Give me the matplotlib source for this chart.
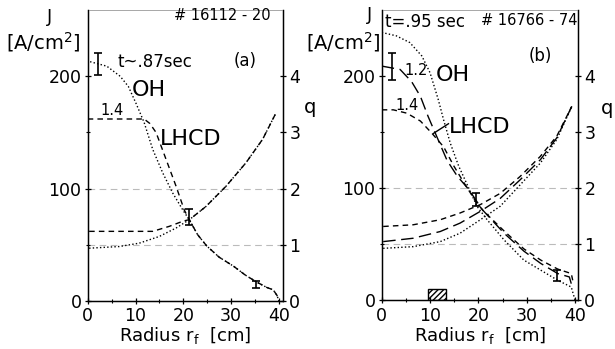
import numpy as np
import matplotlib.pyplot as plt

# ---- panel (a): shot 16112-20, t~.87 s ----
r_a_oh = [0.5, 4, 6.8, 8.5, 10.1, 11.8, 13.6, 15.7, 17.8, 19.9, 21.3, 23, 24.9, 27.5, 30.5, 33, 35.3, 37.5, 38.8, 39.6, 40]
j_a_oh = [213, 209, 200, 191, 176, 159, 135, 114, 96, 81, 72, 59, 49, 39, 31, 23, 17, 12, 10, 5, 0]
r_a_lh = [0, 11.8, 13, 14.3, 16.4, 18.5, 20.2, 21.3, 23, 24.9, 27.5, 30.5, 33, 35.3, 37.5, 38.8, 39.6, 40]
j_a_lh = [162, 162, 158, 150, 126, 102, 81, 72, 59, 49, 39, 31, 23, 17, 12, 10, 5, 0]
rq_a_oh = [0.3, 6.6, 10.8, 15, 18.5, 21.3, 24.7, 28.9, 33.1, 36.6, 39.4]
q_a_oh = [0.94, 0.97, 1.03, 1.15, 1.3, 1.45, 1.68, 2.04, 2.46, 2.88, 3.35]
rq_a_lh = [0.3, 13.6, 17.1, 19.9, 21.3, 24.7, 28.9, 33.1, 36.6, 39.4]
q_a_lh = [1.24, 1.24, 1.33, 1.42, 1.45, 1.68, 2.04, 2.46, 2.88, 3.35]
err_a_r = [2.1, 21.2, 35.3]
err_a_j = [211, 75, 15]
err_a_e = [10, 7, 3]

# ---- panel (b): shot 16766-74, t=.95 s ----
r_b_oh = [0, 3, 5.8, 8.3, 10, 11.7, 12.8, 14.2, 15.9, 17.6, 19.7, 21.8, 25.3, 29.4, 32.9, 36.4, 39.2, 40]
j_b_oh = [239, 236, 230, 218, 203, 179, 161, 140, 120, 104, 84, 72, 54, 36, 27, 18, 12, 0]
r_b_12 = [0, 3.8, 6.2, 8, 9.6, 11.4, 13.5, 15.6, 18, 20.8, 25.3, 29.4, 32.9, 36.4, 38.8, 39.2]
j_b_12 = [209, 206, 195, 182, 164, 146, 125, 111, 99, 81, 60, 44, 33, 24, 21, 15]
r_b_14 = [0, 2.4, 5.2, 8, 10.4, 12.8, 14.9, 17, 19.5, 21, 25.3, 29.4, 32.9, 36.4, 39.2, 39.5]
j_b_14 = [170, 170, 167, 160, 149, 137, 120, 105, 88, 80, 62, 46, 36, 28, 24, 18]
rq_b = [0.3, 6.5, 12.1, 16.2, 20.4, 24.5, 28.6, 32.8, 36.2, 39.3]
q_b_oh = [0.93, 0.96, 1.05, 1.2, 1.44, 1.68, 2.06, 2.45, 2.87, 3.46]
q_b_12 = [1.05, 1.11, 1.23, 1.38, 1.59, 1.82, 2.15, 2.51, 2.9, 3.46]
q_b_14 = [1.32, 1.35, 1.44, 1.56, 1.71, 1.91, 2.21, 2.57, 2.93, 3.46]
err_b_r = [2.1, 19.6, 36.2]
err_b_j = [209, 90, 22]
err_b_e = [12, 6, 5]
antenna_r = [9.6, 13.3]
antenna_j = 10

dotted = (0, (1, 1.6))
short_dash = (0, (4, 3))
long_dash = (0, (9, 4))
grid_ls = (0, (6, 4))

fig = plt.figure(figsize=(6.15, 3.49), dpi=100)
ax_a = fig.add_axes([0.1426, 0.1375, 0.3176, 0.8338])
ax_b = fig.add_axes([0.6207, 0.139, 0.3192, 0.8323])


def setup(ax, xmax):
    ax.set_xlim(0, xmax)
    ax.set_ylim(0, 259)
    ax.set_xticks([0, 10, 20, 30, 40])
    ax.set_xticks([5, 15, 25, 35], minor=True)
    ax.set_yticks([0, 100, 200])
    ax.set_yticks([50, 150], minor=True)
    ax.tick_params(direction='inout', length=5, width=0.9, labelsize=12.5, pad=2)
    ax.tick_params(which='minor', direction='inout', length=3, width=0.8)
    for s in ['left', 'bottom', 'right']:
        ax.spines[s].set_linewidth(1.0)
    ax.spines['top'].set_color('#999999')
    ax.spines['top'].set_linewidth(0.6)
    ax.axhline(50, color='#bbbbbb', lw=0.8, ls=grid_ls, zorder=0)
    ax.axhline(100, color='#bbbbbb', lw=0.8, ls=grid_ls, zorder=0)
    ax.set_xlabel("Radius r$_\\mathregular{f}$  [cm]", fontsize=13, labelpad=0)
    tq = ax.twinx()
    tq.set_ylim(0, 259 / 50)
    tq.set_yticks([0, 1, 2, 3, 4])
    tq.tick_params(direction='inout', length=5, width=0.9, labelsize=12.5, pad=2)
    tq.spines['top'].set_visible(False)
    return tq


q_a = setup(ax_a, 40.86)
q_b = setup(ax_b, 40.6)

# panel (a) curves
ax_a.plot(r_a_oh, j_a_oh, color='k', lw=1.0, ls=dotted)
ax_a.plot(r_a_lh, j_a_lh, color='k', lw=1.0, ls=short_dash)
q_a.plot(rq_a_oh, q_a_oh, color='k', lw=1.0, ls=dotted)
q_a.plot(rq_a_lh, q_a_lh, color='k', lw=1.0, ls=short_dash)
ax_a.errorbar(err_a_r, err_a_j, yerr=err_a_e, fmt='none', ecolor='k', elinewidth=1.2, capsize=3, capthick=1.2)

ax_a.text(28.2, 254, "# 16112 - 20", fontsize=10.5, ha='center', va='center')
ax_a.text(14, 213, "t~.87sec", fontsize=12, ha='center', va='center')
ax_a.text(33, 214, "(a)", fontsize=12, ha='center', va='center')
ax_a.text(12.8, 188, "OH", fontsize=16, ha='center', va='center')
ax_a.text(5.2, 170, "1.4", fontsize=10.5, ha='center', va='center')
ax_a.text(21.6, 144, "LHCD", fontsize=16, ha='center', va='center')

# panel (b) curves
ax_b.plot(r_b_oh, j_b_oh, color='k', lw=1.0, ls=dotted)
ax_b.plot(r_b_12, j_b_12, color='k', lw=1.0, ls=long_dash)
ax_b.plot(r_b_14, j_b_14, color='k', lw=1.0, ls=short_dash)
q_b.plot(rq_b, q_b_oh, color='k', lw=1.0, ls=dotted)
q_b.plot(rq_b, q_b_12, color='k', lw=1.0, ls=long_dash)
q_b.plot(rq_b, q_b_14, color='k', lw=1.0, ls=short_dash)
ax_b.errorbar(err_b_r, err_b_j, yerr=err_b_e, fmt='none', ecolor='k', elinewidth=1.2, capsize=3, capthick=1.2)
ax_b.plot([10.7, 13.8], [149, 157.6], color='k', lw=1.0)
ax_b.bar([(antenna_r[0] + antenna_r[1]) / 2], [antenna_j], width=antenna_r[1] - antenna_r[0],
         color='white', edgecolor='k', hatch='//////', lw=1.0)

ax_b.text(9.0, 248, "t=.95 sec", fontsize=12, ha='center', va='center')
ax_b.text(30.5, 250, "# 16766 - 74", fontsize=10.5, ha='center', va='center')
ax_b.text(32.7, 218, "(b)", fontsize=12, ha='center', va='center')
ax_b.text(14.6, 201, "OH", fontsize=16, ha='center', va='center')
ax_b.text(7.2, 205, "1.2", fontsize=10.5, ha='center', va='center')
ax_b.text(5.2, 174, "1.4", fontsize=10.5, ha='center', va='center')
ax_b.text(20.3, 155, "LHCD", fontsize=16, ha='center', va='center')

# axis titles as free text like the original
fig.text(50 / 615, 1 - 17 / 349, "J", fontsize=13, ha='center', va='center')
fig.text(43 / 615, 1 - 42 / 349, "[A/cm$^\\mathregular{2}$]", fontsize=14, ha='center', va='center')
fig.text(310 / 615, 1 - 107 / 349, "q", fontsize=14, ha='center', va='center')
fig.text(370 / 615, 1 - 15 / 349, "J", fontsize=13, ha='center', va='center')
fig.text(343 / 615, 1 - 42 / 349, "[A/cm$^\\mathregular{2}$]", fontsize=14, ha='center', va='center')
fig.text(607 / 615, 1 - 108 / 349, "q", fontsize=14, ha='center', va='center')

fig.savefig("out.png", dpi=100)
